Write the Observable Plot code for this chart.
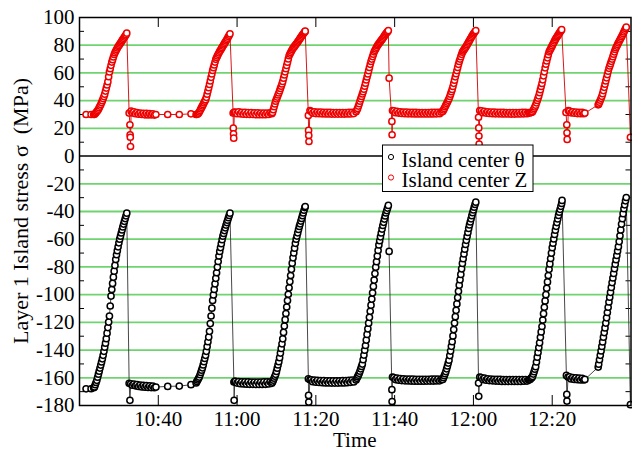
<!DOCTYPE html>
<html><head><meta charset="utf-8">
<script src="https://cdn.jsdelivr.net/npm/d3@7"></script>
<script src="https://cdn.jsdelivr.net/npm/@observablehq/plot@0.6"></script>
<style>
html,body{margin:0;padding:0;background:#fff;}
svg, svg text{font-family:'Liberation Serif','Times New Roman',serif !important;}
</style>
</head><body><div id="chart"></div>
<script>
// ---- data (time = minutes after 10:00) ----
const xDomainLabels = ["10:20", "12:40"];
const xTickLabels = ["10:40", "11:00", "11:20", "11:40", "12:00", "12:20"];
const yTickValues = [100, 80, 60, 40, 20, 0, -20, -40, -60, -80, -100, -120, -140, -160, -180];
const yMinorTicks = [90, 70, 50, 30, 10, -10, -30, -50, -70, -90, -110, -130, -150, -170];
const yDomain = [-180, 100];
const seriesNames = ["Island center \u03b8", "Island center Z"];
const yTitle = "Layer 1 Island stress \u03c3  (MPa)";
const xTitle = "Time";

const thetaCenter = [
[21.67,-168.0],[22.94,-167.9],[23.6,-167.2],
[23.8,-166.6],[24.0,-165.0],[24.2,-163.4],[24.4,-161.8],[24.6,-159.6],[24.8,-157.4],[25.0,-155.2],[25.2,-153.0],[25.4,-150.8],[25.6,-148.6],[25.8,-146.3],[26.0,-143.8],[26.2,-140.9],[26.4,-137.9],[26.6,-135.0],[26.8,-131.8],[27.0,-127.8],[27.2,-123.8],[27.4,-119.8],[27.6,-115.5],[27.8,-108.2],[28.0,-101.0],[28.2,-96.3],[28.4,-91.9],[28.6,-87.4],[28.8,-83.1],[29.0,-78.9],[29.2,-74.6],[29.4,-71.2],[29.6,-68.3],[29.8,-65.5],[30.0,-62.6],[30.2,-60.0],[30.4,-57.8],[30.6,-55.5],[30.8,-53.3],[31.0,-51.1],[31.2,-49.1],[31.4,-47.1],[31.6,-45.1],[31.8,-43.1],[32.0,-41.2],
[32.6,-164.0],[32.8,-176.3],
[33.0,-164.3],[33.4,-165.4],[33.8,-164.5],[34.2,-165.8],[34.6,-165.0],[35.0,-166.3],[35.4,-165.2],[35.8,-166.6],[36.2,-165.5],[36.6,-166.8],[37.0,-165.7],[37.4,-167.0],[37.8,-165.9],[38.2,-167.1],[38.6,-166.0],[39.0,-167.2],[39.4,-166.7],
[42.39,-166.2],[45.33,-166.0],[48.30,-165.0],
[49.6,-163.7],[49.8,-162.6],[50.0,-161.6],[50.2,-160.5],[50.4,-159.5],[50.6,-157.8],[50.8,-156.2],[51.0,-154.5],[51.2,-152.8],[51.4,-150.7],[51.6,-148.4],[51.8,-146.1],[52.0,-143.8],[52.2,-140.9],[52.4,-137.5],[52.6,-134.0],[52.8,-130.6],[53.0,-126.5],[53.2,-120.9],[53.4,-115.4],[53.6,-109.8],[53.8,-104.2],[54.0,-100.2],[54.2,-96.2],[54.4,-92.2],[54.6,-88.2],[54.8,-84.2],[55.0,-80.1],[55.2,-76.1],[55.4,-72.1],[55.6,-68.8],[55.8,-66.0],[56.0,-63.2],[56.2,-60.3],[56.4,-57.8],[56.6,-55.8],[56.8,-53.8],[57.0,-51.8],[57.2,-49.8],[57.4,-48.0],[57.6,-46.3],[57.8,-44.5],[58.0,-42.8],[58.2,-41.2],
[59.2,-163.1],[59.25,-176.3],[59.4,-162.5],
[59.6,-162.6],[60.0,-163.8],[60.4,-162.7],[60.8,-164.3],[61.2,-162.9],[61.6,-164.5],[62.0,-163.0],[62.4,-164.6],[62.8,-163.0],[63.2,-164.7],[63.6,-163.1],[64.0,-164.7],[64.4,-163.1],[64.8,-164.8],[65.2,-163.1],[65.6,-164.8],[66.0,-163.1],[66.4,-164.8],[66.8,-163.0],[67.2,-164.7],[67.6,-163.0],[68.0,-164.5],[68.4,-162.9],[68.8,-164.0],
[69.0,-163.1],[69.2,-161.7],[69.4,-160.3],[69.6,-158.9],[69.8,-157.5],[70.0,-155.4],[70.2,-153.1],[70.4,-150.7],[70.6,-148.4],[70.8,-145.5],[71.0,-142.2],[71.2,-138.8],[71.4,-135.5],[71.6,-131.9],[71.8,-127.3],[72.0,-122.7],[72.2,-118.1],[72.4,-113.6],[72.6,-108.9],[72.8,-104.3],[73.0,-99.7],[73.2,-95.1],[73.4,-90.6],[73.6,-86.2],[73.8,-81.7],[74.0,-77.3],[74.2,-73.4],[74.4,-69.9],[74.6,-66.5],[74.8,-63.0],[75.0,-60.0],[75.2,-57.7],[75.4,-55.4],[75.6,-53.0],[75.8,-50.8],[76.0,-48.9],[76.2,-46.9],[76.4,-45.0],[76.6,-43.0],[76.8,-41.1],[77.0,-39.1],[77.2,-37.2],[77.3,-36.4],
[78.1,-160.7],[78.15,-172.7],[78.2,-177.5],[78.5,-161.5],
[78.8,-161.5],[79.2,-162.8],[79.6,-161.6],[80.0,-163.2],[80.4,-161.9],[80.8,-163.4],[81.2,-162.0],[81.6,-163.6],[82.0,-162.1],[82.4,-163.7],[82.8,-162.2],[83.2,-163.7],[83.6,-162.2],[84.0,-163.8],[84.4,-162.2],[84.8,-163.8],[85.2,-162.2],[85.6,-163.8],[86.0,-162.2],[86.4,-163.7],[86.8,-162.1],[87.2,-163.7],[87.6,-162.0],[88.0,-163.5],[88.4,-161.9],[88.8,-163.3],[89.2,-161.7],[89.6,-163.0],
[90.2,-161.6],[90.4,-160.4],[90.6,-159.2],[90.8,-158.1],[91.0,-156.8],[91.2,-155.2],[91.4,-153.5],[91.6,-151.8],[91.8,-150.1],[92.0,-147.0],[92.2,-143.6],[92.4,-140.1],[92.6,-136.7],[92.8,-132.8],[93.0,-128.7],[93.2,-124.7],[93.4,-120.6],[93.6,-116.4],[93.8,-112.0],[94.0,-107.6],[94.2,-103.2],[94.4,-98.7],[94.6,-94.1],[94.8,-89.5],[95.0,-84.8],[95.2,-80.2],[95.4,-76.2],[95.6,-72.2],[95.8,-68.1],[96.0,-64.1],[96.2,-61.1],[96.4,-58.3],[96.6,-55.5],[96.8,-52.7],[97.0,-50.1],[97.2,-47.8],[97.4,-45.5],[97.6,-43.2],[97.8,-41.1],[98.0,-39.3],[98.2,-37.5],[98.4,-35.6],
[98.6,-68.8],[99.3,-168.6],[99.35,-177.1],[99.45,-159.5],
[99.8,-159.8],[100.2,-161.3],[100.6,-160.3],[101.0,-161.7],[101.4,-160.6],[101.8,-162.0],[102.2,-160.8],[102.6,-162.2],[103.0,-160.9],[103.4,-162.3],[103.8,-161.0],[104.2,-162.4],[104.6,-161.0],[105.0,-162.5],[105.4,-161.1],[105.8,-162.5],[106.2,-161.1],[106.6,-162.5],[107.0,-161.1],[107.4,-162.5],[107.8,-161.1],[108.2,-162.4],[108.6,-161.1],[109.0,-162.4],[109.4,-161.0],[109.8,-162.4],[110.2,-161.0],[110.6,-162.3],[111.0,-161.0],[111.4,-162.2],[111.8,-161.2],
[112.2,-161.3],[112.4,-159.9],[112.6,-158.5],[112.8,-157.1],[113.0,-155.5],[113.2,-153.5],[113.4,-151.5],[113.6,-149.4],[113.8,-147.3],[114.0,-144.0],[114.2,-140.7],[114.4,-137.3],[114.6,-134.0],[114.8,-129.8],[115.0,-125.2],[115.2,-120.5],[115.4,-115.9],[115.6,-111.3],[115.8,-106.7],[116.0,-102.1],[116.2,-97.6],[116.4,-93.2],[116.6,-89.3],[116.8,-85.4],[117.0,-81.4],[117.2,-77.5],[117.4,-74.1],[117.6,-70.6],[117.8,-67.2],[118.0,-63.8],[118.2,-60.8],[118.4,-57.9],[118.6,-55.1],[118.8,-52.2],[119.0,-49.7],[119.2,-47.5],[119.4,-45.3],[119.6,-43.0],[119.8,-40.9],[120.0,-38.9],[120.2,-36.9],[120.4,-34.9],[120.6,-33.3],
[121.3,-163.8],[121.35,-173.4],[121.6,-159.5],
[122.0,-159.8],[122.4,-161.2],[122.8,-160.3],[123.2,-161.7],[123.6,-160.7],[124.0,-162.0],[124.4,-160.9],[124.8,-162.2],[125.2,-161.1],[125.6,-162.4],[126.0,-161.2],[126.4,-162.5],[126.8,-161.2],[127.2,-162.6],[127.6,-161.3],[128.0,-162.6],[128.4,-161.3],[128.8,-162.6],[129.2,-161.3],[129.6,-162.6],[130.0,-161.3],[130.4,-162.6],[130.8,-161.3],[131.2,-162.6],[131.6,-161.3],[132.0,-162.6],[132.4,-161.3],[132.8,-162.5],[133.2,-161.3],[133.6,-162.4],[134.0,-161.6],
[134.2,-161.5],[134.4,-161.0],[134.6,-160.4],[134.8,-159.9],[135.0,-159.0],[135.2,-157.3],[135.4,-155.6],[135.6,-153.8],[135.8,-152.0],[136.0,-148.6],[136.2,-145.1],[136.4,-141.7],[136.6,-138.2],[136.8,-134.8],[137.0,-130.8],[137.2,-126.9],[137.4,-123.0],[137.6,-118.3],[137.8,-113.7],[138.0,-109.1],[138.2,-104.5],[138.4,-100.0],[138.6,-95.4],[138.8,-90.8],[139.0,-86.2],[139.2,-81.7],[139.4,-77.8],[139.6,-73.9],[139.8,-70.0],[140.0,-66.1],[140.2,-62.9],[140.4,-59.8],[140.6,-56.6],[140.8,-53.5],[141.0,-50.7],[141.2,-48.0],[141.4,-45.4],[141.6,-42.8],[141.8,-40.5],[142.0,-38.4],[142.2,-36.3],[142.4,-34.2],[142.5,-32.0],
[143.6,-158.3],[143.7,-172.0],[143.75,-176.8],[144.0,-159.5],
[144.4,-159.3],[144.8,-160.8],[145.2,-159.8],[145.6,-161.2],[146.0,-160.1],[146.4,-161.4],[146.8,-160.3],[147.2,-161.6],[147.6,-160.4],[148.0,-161.6],[148.3,-161.2],
[151.67,-152.3],[151.8,-150.2],[152.0,-147.0],[152.2,-143.8],[152.4,-140.6],[152.6,-137.4],[152.8,-134.1],[153.0,-130.7],[153.2,-127.4],[153.4,-124.0],[153.6,-120.5],[153.8,-116.7],[154.0,-112.9],[154.2,-109.1],[154.4,-105.3],[154.6,-101.8],[154.8,-98.3],[155.0,-94.8],[155.2,-91.3],[155.4,-88.0],[155.6,-84.7],[155.8,-81.3],[156.0,-78.0],[156.2,-74.8],[156.4,-71.7],[156.6,-68.5],[156.8,-65.4],[157.0,-61.7],[157.2,-57.5],[157.4,-53.3],[157.6,-49.1],[157.8,-45.2],[158.0,-41.6],[158.2,-38.0],[158.4,-35.2],[158.6,-32.3],[158.8,-29.9],
[159.85,-179.4]
];

const zCenter = [
[21.67,30.0],[22.94,30.0],[23.6,30.0],
[23.8,30.1],[24.0,30.7],[24.2,31.4],[24.4,32.1],[24.6,32.8],[24.8,33.8],[25.0,34.9],[25.2,36.1],[25.4,37.2],[25.6,38.6],[25.8,40.0],[26.0,41.5],[26.2,42.9],[26.4,44.7],[26.6,46.9],[26.8,49.1],[27.0,51.3],[27.2,53.7],[27.4,57.3],[27.6,60.7],[27.8,63.1],[28.0,65.5],[28.2,67.8],[28.4,69.6],[28.6,71.5],[28.8,73.3],[29.0,74.6],[29.2,75.8],[29.4,76.9],[29.6,78.0],[29.8,79.0],[30.0,79.8],[30.2,80.7],[30.4,81.6],[30.6,82.4],[30.8,83.3],[31.0,84.2],[31.2,85.0],[31.4,85.9],[31.6,86.7],[31.8,87.6],[32.0,88.7],
[32.6,31.0],[32.8,22.6],[32.85,15.4],[32.9,13.6],[32.95,6.9],
[33.1,32.4],[33.4,31.2],[33.8,32.0],[34.2,30.6],[34.6,31.4],[35.0,30.2],[35.4,31.1],[35.8,30.0],[36.2,30.9],[36.6,29.8],[37.0,30.8],[37.4,29.7],[37.8,30.6],[38.2,29.8],[38.6,30.5],[39.0,29.6],[39.4,30.0],
[42.39,30.0],[45.33,30.0],[48.30,30.5],
[49.6,30.0],[49.8,30.1],[50.0,30.3],[50.2,30.9],[50.4,31.8],[50.6,32.9],[50.8,34.0],[51.0,35.1],[51.2,36.2],[51.4,37.3],[51.6,38.4],[51.8,39.6],[52.0,40.7],[52.2,42.4],[52.4,44.7],[52.6,47.0],[52.8,49.3],[53.0,51.7],[53.2,54.2],[53.4,56.8],[53.6,59.3],[53.8,61.8],[54.0,63.8],[54.2,65.8],[54.4,67.8],[54.6,69.8],[54.8,71.1],[55.0,72.3],[55.2,73.4],[55.4,74.5],[55.6,75.6],[55.8,76.5],[56.0,77.5],[56.2,78.4],[56.4,79.4],[56.6,80.3],[56.8,81.3],[57.0,82.2],[57.2,83.2],[57.4,84.1],[57.6,85.1],[57.8,86.2],[58.0,87.2],[58.2,88.2],
[59.0,31.0],[59.05,20.1],[59.1,16.1],[59.15,12.9],[59.3,31.7],
[59.6,31.6],[60.0,30.6],[60.4,31.9],[60.8,30.5],[61.2,31.6],[61.6,30.2],[62.0,31.5],[62.4,30.1],[62.8,31.4],[63.2,30.0],[63.6,31.3],[64.0,30.0],[64.4,31.2],[64.8,29.9],[65.2,31.2],[65.6,29.9],[66.0,31.1],[66.4,29.9],[66.8,31.1],[67.2,29.9],[67.6,31.0],[68.0,30.0],[68.4,31.2],[68.8,30.6],
[69.0,31.5],[69.2,33.5],[69.4,35.6],[69.6,37.6],[69.8,39.6],[70.0,41.2],[70.2,42.6],[70.4,44.1],[70.6,45.5],[70.8,47.1],[71.0,48.8],[71.2,50.4],[71.4,52.1],[71.6,53.9],[71.8,56.2],[72.0,58.5],[72.2,60.8],[72.4,63.1],[72.6,65.4],[72.8,67.7],[73.0,70.1],[73.2,72.4],[73.4,73.6],[73.6,74.7],[73.8,75.8],[74.0,76.9],[74.2,77.8],[74.4,78.6],[74.6,79.3],[74.8,80.1],[75.0,80.8],[75.2,81.6],[75.4,82.4],[75.6,83.2],[75.8,84.1],[76.0,84.9],[76.2,85.8],[76.4,86.6],[76.6,87.4],[76.8,88.2],[77.0,89.0],[77.2,89.8],[77.3,90.1],
[78.1,29.3],[78.15,18.5],[78.2,14.9],[78.25,10.5],[78.5,32.9],
[78.8,32.2],[79.2,31.0],[79.6,32.0],[80.0,30.7],[80.4,31.8],[80.8,30.6],[81.2,31.7],[81.6,30.5],[82.0,31.6],[82.4,30.4],[82.8,31.5],[83.2,30.4],[83.6,31.5],[84.0,30.3],[84.4,31.4],[84.8,30.3],[85.2,31.4],[85.6,30.3],[86.0,31.4],[86.4,30.3],[86.8,31.4],[87.2,30.3],[87.6,31.4],[88.0,30.4],[88.4,31.5],[88.8,30.4],[89.2,31.6],[89.6,30.7],
[90.2,32.0],[90.4,33.2],[90.6,34.4],[90.8,36.1],[91.0,37.8],[91.2,39.6],[91.4,41.3],[91.6,43.0],[91.8,44.8],[92.0,46.5],[92.2,48.3],[92.4,50.4],[92.6,52.6],[92.8,54.9],[93.0,57.1],[93.2,59.3],[93.4,61.6],[93.6,63.9],[93.8,66.2],[94.0,68.3],[94.2,70.0],[94.4,71.8],[94.6,73.5],[94.8,75.2],[95.0,76.3],[95.2,77.4],[95.4,78.5],[95.6,79.6],[95.8,80.4],[96.0,81.2],[96.2,81.9],[96.4,82.7],[96.6,83.5],[96.8,84.2],[97.0,85.0],[97.2,85.9],[97.4,86.7],[97.6,87.6],[97.8,88.4],[98.0,89.1],[98.2,89.8],[98.4,90.6],
[98.6,56.2],[99.3,25.0],[99.35,15.4],[99.45,32.9],
[99.8,32.6],[100.2,31.3],[100.6,32.3],[101.0,31.0],[101.4,32.0],[101.8,30.8],[102.2,31.8],[102.6,30.6],[103.0,31.7],[103.4,30.5],[103.8,31.6],[104.2,30.5],[104.6,31.5],[105.0,30.4],[105.4,31.5],[105.8,30.4],[106.2,31.4],[106.6,30.4],[107.0,31.4],[107.4,30.4],[107.8,31.4],[108.2,30.4],[108.6,31.4],[109.0,30.4],[109.4,31.5],[109.8,30.4],[110.2,31.5],[110.6,30.5],[111.0,31.6],[111.4,30.6],[111.8,31.7],
[112.2,32.2],[112.4,33.3],[112.6,34.4],[112.8,35.6],[113.0,36.7],[113.2,37.9],[113.4,39.0],[113.6,40.2],[113.8,41.4],[114.0,43.0],[114.2,44.7],[114.4,46.4],[114.6,48.1],[114.8,50.2],[115.0,52.5],[115.2,54.8],[115.4,57.2],[115.6,59.4],[115.8,61.7],[116.0,64.0],[116.2,66.2],[116.4,68.3],[116.6,70.0],[116.8,71.7],[117.0,73.4],[117.2,75.0],[117.4,75.9],[117.6,76.8],[117.8,77.6],[118.0,78.5],[118.2,79.4],[118.4,80.4],[118.6,81.4],[118.8,82.4],[119.0,83.4],[119.2,84.4],[119.4,85.4],[119.6,86.4],[119.8,87.3],[120.0,88.2],[120.2,89.0],[120.4,89.9],[120.6,90.6],
[121.3,28.0],[121.35,20.3],[121.4,14.5],[121.45,8.7],[121.6,32.9],
[122.0,32.6],[122.4,31.3],[122.8,32.2],[123.2,31.0],[123.6,32.0],[124.0,30.8],[124.4,31.8],[124.8,30.6],[125.2,31.7],[125.6,30.5],[126.0,31.6],[126.4,30.5],[126.8,31.5],[127.2,30.4],[127.6,31.5],[128.0,30.4],[128.4,31.4],[128.8,30.4],[129.2,31.4],[129.6,30.3],[130.0,31.4],[130.4,30.3],[130.8,31.4],[131.2,30.4],[131.6,31.4],[132.0,30.4],[132.4,31.5],[132.8,30.5],[133.2,31.5],[133.6,30.6],[134.0,31.4],
[134.2,31.2],[134.4,31.3],[134.6,31.4],[134.8,31.6],[135.0,32.0],[135.2,33.2],[135.4,34.3],[135.6,35.5],[135.8,36.7],[136.0,38.4],[136.2,40.1],[136.4,41.8],[136.6,43.5],[136.8,45.7],[137.0,47.9],[137.2,50.2],[137.4,52.4],[137.6,55.0],[137.8,57.9],[138.0,60.8],[138.2,63.7],[138.4,66.3],[138.6,68.6],[138.8,70.9],[139.0,73.2],[139.2,75.2],[139.4,76.3],[139.6,77.4],[139.8,78.6],[140.0,79.7],[140.2,80.8],[140.4,81.9],[140.6,83.1],[140.8,84.2],[141.0,85.2],[141.2,86.1],[141.4,86.9],[141.6,87.8],[141.8,88.7],[142.0,89.6],[142.2,90.5],[142.4,91.2],
[143.5,31.5],[143.7,22.6],[143.75,16.8],[143.8,12.0],[144.1,32.9],
[144.4,32.4],[144.8,31.2],[145.2,32.0],[145.6,30.9],[146.0,31.8],[146.4,30.7],[146.8,31.6],[147.2,30.6],[147.6,31.5],[148.0,30.6],[148.3,31.0],
[151.67,37.0],[151.8,37.6],[152.0,38.9],[152.2,40.3],[152.4,41.7],[152.6,43.1],[152.8,45.0],[153.0,47.3],[153.2,49.6],[153.4,51.9],[153.6,54.2],[153.8,56.5],[154.0,58.8],[154.2,61.2],[154.4,63.3],[154.6,65.0],[154.8,66.7],[155.0,68.4],[155.2,70.0],[155.4,71.7],[155.6,73.5],[155.8,75.2],[156.0,76.9],[156.2,78.2],[156.4,79.4],[156.6,80.6],[156.8,81.7],[157.0,82.8],[157.2,83.9],[157.4,85.0],[157.6,86.1],[157.8,87.2],[158.0,88.4],[158.2,89.6],[158.4,90.8],[158.6,92.0],[158.8,93.0],
[159.85,13.6]
];

// ---- chart ----
const toMinutes = s => { const [h, m] = s.split(":").map(Number); return (h - 10) * 60 + m; };
const xTicks = xTickLabels.map(toMinutes);
const xDomain = xDomainLabels.map(toMinutes);
const labelOf = new Map(xTicks.map((t, i) => [t, xTickLabels[i]]));
const gridValues = yTickValues.filter(v => v !== 0 && v !== yDomain[0] && v !== yDomain[1]);

const W = 632, H = 451;
const mL = 79, mR = 1.5, mT = 17, mB = 46;
const innerW = W - mL - mR, innerH = H - mT - mB;
const RED = "#ee0000";
const FONT = "'Liberation Serif', 'Times New Roman', serif";

const chart = Plot.plot({
  width: W, height: H,
  marginLeft: mL, marginRight: mR, marginTop: mT, marginBottom: mB,
  style: {background: "white", fontFamily: FONT, fontSize: "21px", overflow: "visible"},
  x: {type: "linear", domain: xDomain},
  y: {domain: yDomain},
  marks: [
    Plot.ruleY(gridValues, {stroke: "#6fd46f", strokeWidth: 1.8}),
    Plot.ruleY([0], {stroke: "black", strokeWidth: 1.5}),
    Plot.tickY(yMinorTicks, {stroke: "black", strokeWidth: 1, insetRight: innerW - 5}),
    Plot.tickY(yMinorTicks, {stroke: "black", strokeWidth: 1, insetLeft: innerW - 5}),
    Plot.tickX(xTicks, {stroke: "black", strokeWidth: 1, insetTop: innerH - 10}),
    Plot.tickX(xTicks, {stroke: "black", strokeWidth: 1, insetBottom: innerH - 10}),
    Plot.line(thetaCenter, {x: d => d[0], y: d => d[1], stroke: "#333", strokeWidth: 0.9}),
    Plot.dot(thetaCenter, {x: d => d[0], y: d => d[1], r: 3.1, stroke: "black", fill: "white", strokeWidth: 1.5}),
    Plot.line(zCenter, {x: d => d[0], y: d => d[1], stroke: "#d00000", strokeWidth: 0.9}),
    Plot.dot(zCenter, {x: d => d[0], y: d => d[1], r: 3.1, stroke: RED, fill: "white", strokeWidth: 1.5}),
    Plot.frame({stroke: "black", strokeWidth: 1.5}),
    Plot.axisY({ticks: yTickValues, tickSize: 0, tickPadding: 5, tickFormat: d => String(d), fontSize: 21, fontFamily: FONT, label: null}),
    Plot.axisX({ticks: xTicks, tickSize: 0, tickPadding: 6, tickFormat: d => labelOf.get(d), fontSize: 21, fontFamily: FONT, label: null})
  ]
});
document.getElementById("chart").appendChild(chart);

const svg = d3.select(chart);
svg.append("text")
  .attr("transform", `translate(28,${mT + innerH / 2}) rotate(-90)`)
  .attr("text-anchor", "middle")
  .attr("font-family", FONT)
  .attr("font-size", 22)
  .style("white-space", "pre")
  .text(yTitle);
svg.append("text")
  .attr("x", mL + innerW / 2).attr("y", 447)
  .attr("text-anchor", "middle")
  .attr("font-family", FONT)
  .attr("font-size", 21)
  .text(xTitle);

const lg = svg.append("g");
lg.append("rect").attr("x", 382.5).attr("y", 145).attr("width", 150.5).attr("height", 46.5)
  .attr("fill", "white").attr("stroke", "black").attr("stroke-width", 1);
[["black", 157], [RED, 177.5]].forEach(([c, cy], i) => {
  lg.append("circle").attr("cx", 391).attr("cy", cy).attr("r", 2.6)
    .attr("fill", "white").attr("stroke", c).attr("stroke-width", 1);
  lg.append("text").attr("x", 401.5).attr("y", cy + 9.5)
    .attr("text-anchor", "start")
    .attr("font-family", FONT)
    .attr("font-size", 21)
    .text(seriesNames[i]);
});
</script>
</body></html>
